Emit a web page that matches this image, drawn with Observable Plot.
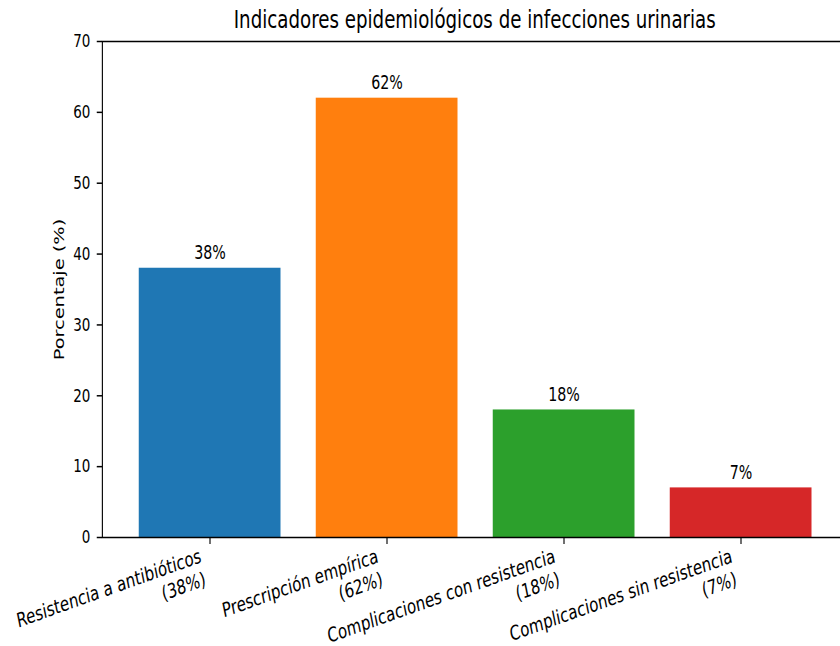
<!DOCTYPE html>
<html>
<head>
<meta charset="utf-8">
<script src="https://cdn.jsdelivr.net/npm/d3@7"></script>
<script src="https://cdn.jsdelivr.net/npm/@observablehq/plot@0.6"></script>
<style>
  html, body { margin: 0; padding: 0; background: #fff; overflow: hidden; width: 840px; height: 646px; }
  #fig { width: 1132px; transform: scaleX(0.75); transform-origin: 0 0; font-family: "DejaVu Sans", sans-serif; }
  #title { height: 31px; box-sizing: border-box; padding: 7.5px 2px 0 136px; text-align: center; font-size: 24.3px; line-height: 1; color: #000; white-space: nowrap; }
  svg { display: block; }
</style>
</head>
<body>
<div id="fig">
  <div id="title">Indicadores epidemiológicos de infecciones urinarias</div>
</div>
<script>
const categories = [
  "Resistencia a antibióticos",
  "Prescripción empírica",
  "Complicaciones con resistencia",
  "Complicaciones sin resistencia"
];
const values = [38, 62, 18, 7];
const palette = ["#1f77b4", "#ff7f0e", "#2ca02c", "#d62728"];
const yTicks = [0, 10, 20, 30, 40, 50, 60, 70];
const yLabel = "Porcentaje (%)";

const data = categories.map((c, i) => ({category: c, value: values[i]}));

const chart = Plot.plot({
  width: 1132,
  height: 615,
  marginTop: 10,
  marginBottom: 109,
  marginLeft: 136,
  marginRight: 2,
  style: {fontFamily: "DejaVu Sans", fontSize: "18px", background: "#fff", color: "#000"},
  x: {type: "band", domain: categories, padding: 0.2, align: 0.5, axis: null},
  y: {domain: [0, 70], axis: null},
  color: {domain: categories, range: palette},
  marks: [
    Plot.barY(data, {x: "category", y: "value", fill: "category"}),
    Plot.frame({stroke: "#000", strokeWidth: 1.5}),
    Plot.axisY({ticks: yTicks, tickSize: 7, tickPadding: 9, strokeWidth: 1.5, label: null, fontSize: 18}),
    Plot.axisX({tickSize: 7, strokeWidth: 1.5, label: null, tickFormat: () => ""}),
    Plot.text([yLabel], {frameAnchor: "left", text: d => d, rotate: -90, textAnchor: "middle", lineAnchor: "middle", dx: -58, fontSize: 19.4}),
    Plot.text(data, {x: "category", y: "value", text: d => `${d.value}%`, lineAnchor: "bottom", dy: -9, fontSize: 19}),
    Plot.text(data, {
      x: "category", frameAnchor: "bottom",
      text: d => `${d.category}\n(${d.value}%)`,
      rotate: -15, textAnchor: "end", lineAnchor: "top", lineHeight: 1.2,
      dx: -15, dy: 8, fontSize: 20
    })
  ]
});
document.getElementById("fig").appendChild(chart);
</script>
</body>
</html>
